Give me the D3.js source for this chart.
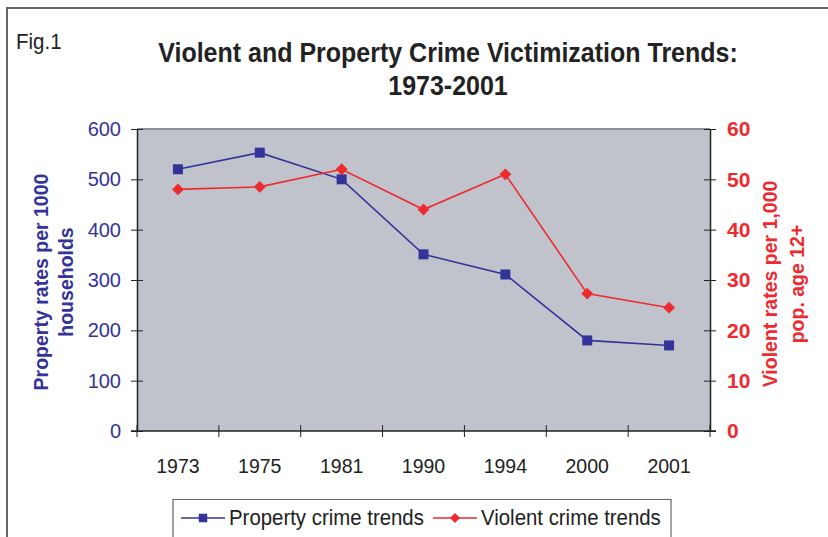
<!DOCTYPE html>
<html>
<head>
    <meta charset="utf-8">
    <title>Violent and Property Crime Victimization Trends</title>
    <script src="https://cdn.jsdelivr.net/npm/d3@7"></script>
    <style>
        body { margin: 0; background: #fff; }
        text { font-family: "Liberation Sans", Arial, sans-serif; }
    </style>
</head>
<body>
    <script>
        var years = ["1973", "1975", "1981", "1990", "1994", "2000", "2001"];
        var propertyRates = [520, 553, 500, 351, 311, 180, 170];
        var violentRates = [48, 48.5, 52, 44, 51, 27.3, 24.5];
        var leftTicks = [0, 100, 200, 300, 400, 500, 600];
        var rightTicks = [0, 10, 20, 30, 40, 50, 60];

        var w = 828, h = 537;
        var blue = "#333399", red = "#ee2a2f";
        var plot = {left: 137, right: 710, top: 129, bottom: 431};

        var svg = d3.select("body").append("svg")
            .attr("width", w)
            .attr("height", h);

        // outer frame (cut off at right/bottom like the cropped figure)
        svg.append("path")
            .attr("d", "M7,537 V8 H828")
            .attr("fill", "none")
            .attr("stroke", "#666")
            .attr("stroke-width", 2);

        svg.append("text").text("Fig.1")
            .attr("transform", "translate(16,49) scale(1,1.1)")
            .attr("font-size", 20.5).attr("fill", "#222");

        // title, slightly stretched vertically like the source
        ["Violent and Property Crime Victimization Trends:", "1973-2001"].forEach(function(t, i) {
            svg.append("text").text(t)
                .attr("transform", "translate(448," + (62 + i * 33) + ") scale(1,1.12)")
                .attr("text-anchor", "middle")
                .attr("font-size", 25).attr("font-weight", "bold").attr("fill", "#222");
        });

        var x = d3.scaleBand().domain(years).range([plot.left, plot.right]);
        var yL = d3.scaleLinear().domain([0, 600]).range([plot.bottom, plot.top]);
        var yR = d3.scaleLinear().domain([0, 60]).range([plot.bottom, plot.top]);

        // plot background
        svg.append("rect")
            .attr("x", plot.left).attr("y", plot.top)
            .attr("width", plot.right - plot.left)
            .attr("height", plot.bottom - plot.top)
            .attr("fill", "#c0c3cb");
        svg.append("line")
            .attr("x1", plot.left).attr("x2", plot.right)
            .attr("y1", plot.top).attr("y2", plot.top)
            .attr("stroke", "#8e9199").attr("stroke-width", 2);

        // left axis
        var gL = svg.append("g").attr("transform", "translate(" + plot.left + ",0)")
            .call(d3.axisLeft(yL).tickValues(leftTicks).tickSizeInner(6).tickSizeOuter(0).tickPadding(10));
        gL.selectAll("line").attr("x2", 6).attr("x1", -6).attr("stroke", "#222");
        gL.select(".domain").attr("stroke", "#222").attr("stroke-width", 1.5);
        gL.selectAll("text").attr("font-size", 20).attr("fill", blue)
            .attr("font-family", "Liberation Sans, Arial, sans-serif");

        // right axis
        var gR = svg.append("g").attr("transform", "translate(" + plot.right + ",0)")
            .call(d3.axisRight(yR).tickValues(rightTicks).tickSizeInner(6).tickSizeOuter(0).tickPadding(11));
        gR.selectAll("line").attr("x1", -6).attr("x2", 6).attr("stroke", "#222");
        gR.select(".domain").attr("stroke", "#222").attr("stroke-width", 1.5);
        gR.selectAll("text").attr("font-size", 21).attr("font-weight", "bold").attr("fill", red)
            .attr("font-family", "Liberation Sans, Arial, sans-serif");

        // bottom axis: ticks at band boundaries
        var gB = svg.append("g");
        gB.append("line")
            .attr("x1", plot.left - 6).attr("x2", plot.right + 6)
            .attr("y1", plot.bottom).attr("y2", plot.bottom)
            .attr("stroke", "#222").attr("stroke-width", 1.5);
        var bounds = years.map(function(d) { return x(d); }).concat([x(years[years.length - 1]) + x.bandwidth()]);
        gB.selectAll("line.tick").data(bounds).enter().append("line")
            .attr("class", "tick")
            .attr("x1", function(d) { return d; }).attr("x2", function(d) { return d; })
            .attr("y1", plot.bottom - 6).attr("y2", plot.bottom + 6)
            .attr("stroke", "#222");
        gB.selectAll("text").data(years).enter().append("text")
            .text(function(d) { return d; })
            .attr("x", function(d) { return x(d) + x.bandwidth() / 2; })
            .attr("y", 473)
            .attr("text-anchor", "middle")
            .attr("font-size", 19.5).attr("fill", "#222");

        // axis titles
        svg.append("text")
            .attr("transform", "translate(48,282) rotate(-90)")
            .attr("text-anchor", "middle")
            .attr("font-size", 19.5).attr("font-weight", "bold").attr("fill", blue)
            .selectAll("tspan").data(["Property rates per 1000", "households"]).enter().append("tspan")
            .attr("x", 0).attr("dy", function(d, i) { return i ? 25 : 0; })
            .text(function(d) { return d; });

        svg.append("text")
            .attr("transform", "translate(777,284) rotate(-90)")
            .attr("text-anchor", "middle")
            .attr("font-size", 19.5).attr("font-weight", "bold").attr("fill", red)
            .selectAll("tspan").data(["Violent rates per 1,000", "pop. age 12+"]).enter().append("tspan")
            .attr("x", 0).attr("dy", function(d, i) { return i ? 27 : 0; })
            .text(function(d) { return d; });

        // series
        var cx = function(d, i) { return x(years[i]) + x.bandwidth() / 2; };
        var lineL = d3.line().x(cx).y(function(d) { return yL(d); });
        var lineR = d3.line().x(cx).y(function(d) { return yR(d); });

        svg.append("path").datum(propertyRates)
            .attr("d", lineL).attr("fill", "none").attr("stroke", blue).attr("stroke-width", 1.6);
        svg.append("path").datum(violentRates)
            .attr("d", lineR).attr("fill", "none").attr("stroke", red).attr("stroke-width", 1.6);

        var sq = d3.symbol().type(d3.symbolSquare).size(100);
        var dm = d3.symbol().type(d3.symbolSquare).size(70); // rotated 45 below

        svg.selectAll("path.sq").data(propertyRates).enter().append("path")
            .attr("class", "sq").attr("d", sq)
            .attr("transform", function(d, i) { return "translate(" + cx(d, i) + "," + yL(d) + ")"; })
            .attr("fill", blue);
        svg.selectAll("path.dm").data(violentRates).enter().append("path")
            .attr("class", "dm").attr("d", dm)
            .attr("transform", function(d, i) { return "translate(" + cx(d, i) + "," + yR(d) + ") rotate(45)"; })
            .attr("fill", red);

        // legend
        var lg = svg.append("g");
        lg.append("path")
            .attr("d", "M173,537 V499.5 H671 V537")
            .attr("fill", "#fff").attr("stroke", "#666").attr("stroke-width", 1.2);
        var items = [
            {name: "Property crime trends", color: blue, sym: sq, rot: 0, x0: 181},
            {name: "Violent crime trends", color: red, sym: dm, rot: 45, x0: 433}
        ];
        items.forEach(function(it) {
            lg.append("line")
                .attr("x1", it.x0).attr("x2", it.x0 + 44)
                .attr("y1", 518).attr("y2", 518)
                .attr("stroke", it.color).attr("stroke-width", 1.6);
            lg.append("path").attr("d", it.sym)
                .attr("transform", "translate(" + (it.x0 + 22) + ",518) scale(0.85) rotate(" + it.rot + ")")
                .attr("fill", it.color);
            lg.append("text").text(it.name)
                .attr("transform", "translate(" + (it.x0 + 48) + ",525) scale(1,1.08)")
                .attr("font-size", 20.4).attr("fill", "#222");
        });
    </script>
</body>
</html>
